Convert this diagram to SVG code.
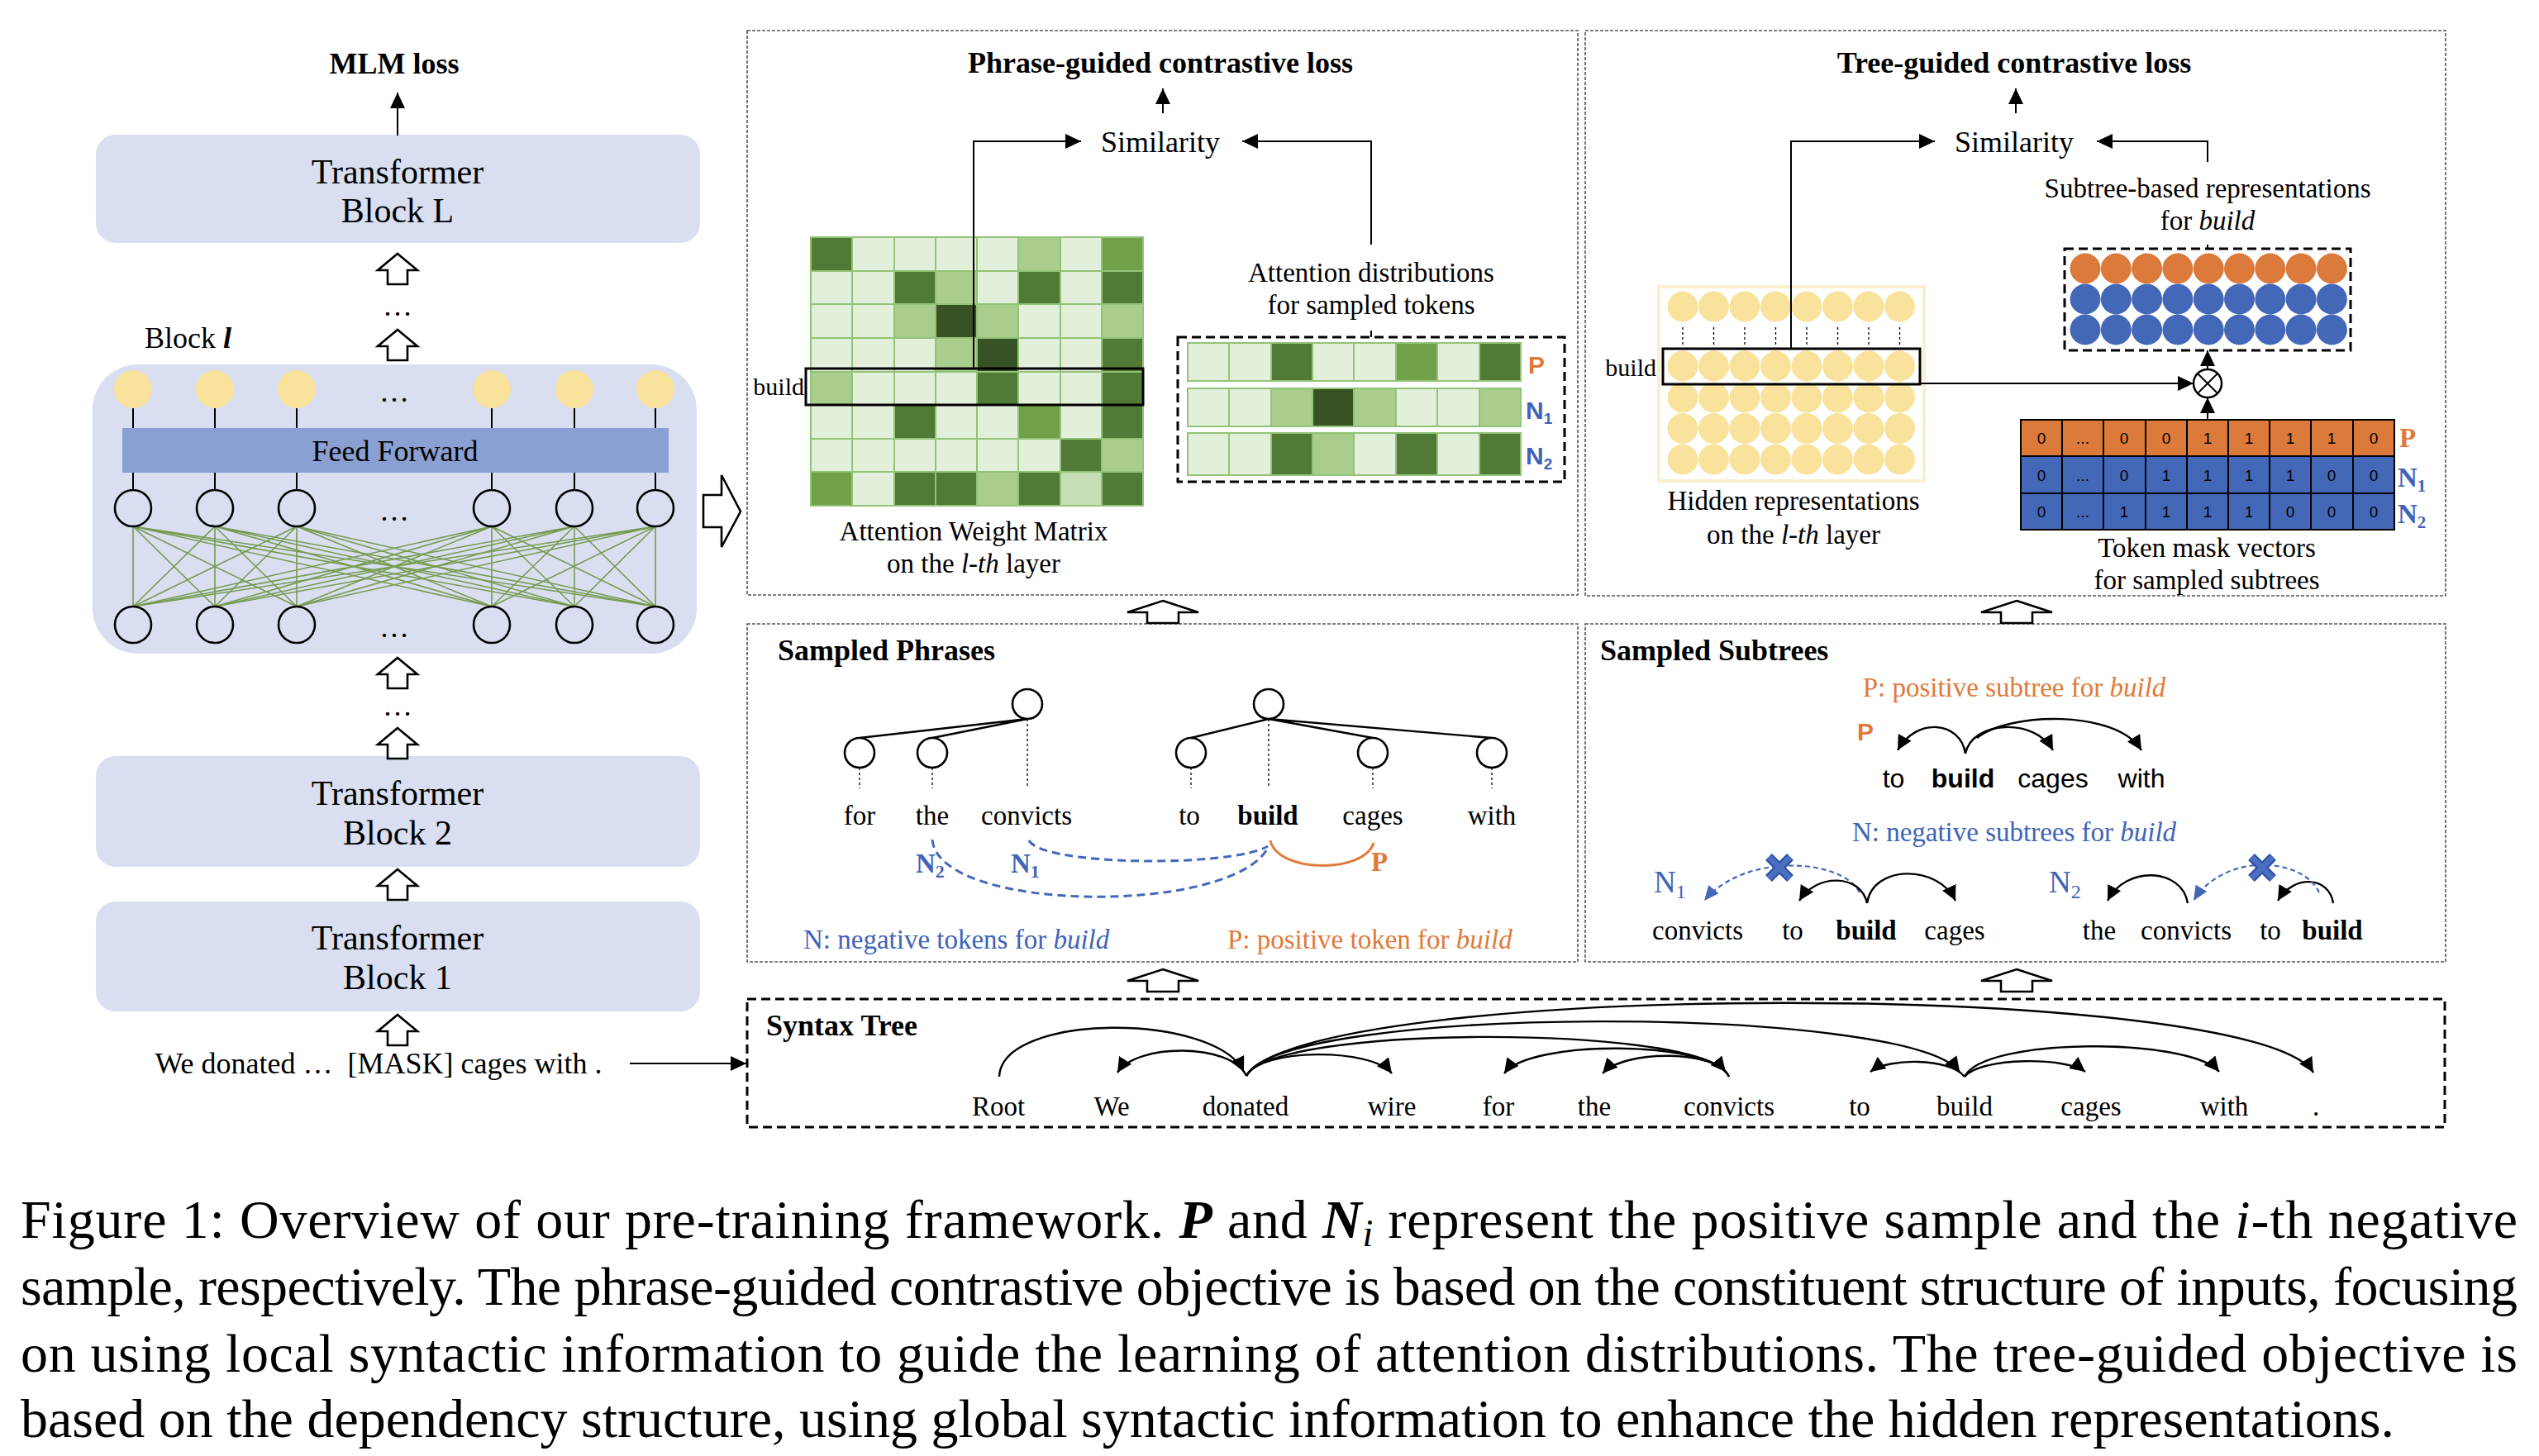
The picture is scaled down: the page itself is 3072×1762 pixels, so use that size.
<svg xmlns="http://www.w3.org/2000/svg" xmlns:xlink="http://www.w3.org/1999/xlink" width="3072" height="1762" viewBox="0 0 3072 1762">
<style>
.sf{font-family:"Liberation Serif","DejaVu Serif",serif;fill:#000}
.ss{font-family:"Liberation Sans","DejaVu Sans",sans-serif;fill:#000}
.b{font-weight:bold}
.i{font-style:italic}
.mid{text-anchor:middle}
.end{text-anchor:end}
.f42{font-size:42px}
.f36{font-size:36px}
.f33{font-size:33px}
.f30{font-size:30px}
.or{fill:#E07A38}
.bl{fill:#3F63B8}
.blk{fill:#D9DFF0}
.frame{fill:none;stroke:#555;stroke-width:1.6;stroke-dasharray:4 2}
.dbox{fill:none;stroke:#000;stroke-width:3;stroke-dasharray:11 6}
.ln{fill:none;stroke:#000;stroke-width:2}
.arc{fill:none;stroke:#000;stroke-width:2.4}
.nc{fill:none;stroke:#000;stroke-width:2.6}
.tc{fill:#fff;stroke:#000;stroke-width:2.6}
.dot{fill:none;stroke:#000;stroke-width:1.3;stroke-dasharray:3 3}
.gl{stroke:#769A4F;stroke-width:1.6}
.hol{fill:#fff;stroke:#000;stroke-width:2.6}
.yc{fill:#F9E29C}
.c0{fill:#E2EFDA}.c1{fill:#C5DEB3}.c2{fill:#A9CD8C}.c3{fill:#70A148}.c4{fill:#507A36}.c5{fill:#375224}
.cell rect{stroke:#93C377;stroke-width:2}
.oc{fill:#DC7A3B}
.bc{fill:#4468B8}
.mt rect{stroke:#000;stroke-width:2}
.mt text{font-family:"Liberation Sans","DejaVu Sans",sans-serif;font-size:19px;text-anchor:middle;fill:#000}
.bdash{fill:none;stroke:#4468B8;stroke-width:3;stroke-dasharray:10 6}
.bdash2{fill:none;stroke:#4468B8;stroke-width:2.2;stroke-dasharray:6 4}
</style>
<defs>
<marker id="ah" markerUnits="userSpaceOnUse" markerWidth="20" markerHeight="18" refX="19" refY="9" orient="auto"><path d="M0,0 L19,9 L0,18 Z" fill="#000"/></marker>
<marker id="as" markerUnits="userSpaceOnUse" markerWidth="20" markerHeight="20" refX="18" refY="9" orient="auto"><path d="M0,0 L18,9 L0,18 Z" fill="#000"/></marker>
<marker id="asb" markerUnits="userSpaceOnUse" markerWidth="20" markerHeight="18" refX="18" refY="8" orient="auto"><path d="M0,0 L18,8 L0,16 Z" fill="#4468B8"/></marker>
<path id="ua" d="M0,0 L24,20 L12,20 L12,37 L-12,37 L-12,20 L-24,20 Z"/>
<path id="wa" d="M0,0 L43,14 L19,14 L19,27 L-19,27 L-19,14 L-43,14 Z"/>
<g id="xm"><path d="M-13,-13 L13,13 M13,-13 L-13,13" stroke="#2E4E9E" stroke-width="11"/><path d="M-13,-13 L13,13 M13,-13 L-13,13" stroke="#4A6EC2" stroke-width="7"/></g>
</defs>
<rect x="0" y="0" width="3072" height="1762" fill="#fff"/>

<!-- LEFT COLUMN -->
<g id="mlm-loss">
<text class="sf b f36 mid" x="477" y="89">MLM loss</text>
</g>
<g id="block-L">
<rect class="blk" x="116" y="163" width="731" height="131" rx="24"/>
<text class="sf f42 mid" x="481" y="222">Transformer</text>
<text class="sf f42 mid" x="481" y="269">Block L</text>
</g>
<g id="block-l">
<text class="sf f36" x="175" y="421">Block <tspan class="b i">l</tspan></text>
<rect class="blk" x="112" y="441" width="731" height="350" rx="55"/>
<g class="yc">
<circle cx="161" cy="471" r="23"/><circle cx="260" cy="471" r="23"/><circle cx="359" cy="471" r="23"/>
<circle cx="595" cy="471" r="23"/><circle cx="695" cy="471" r="23"/><circle cx="793" cy="471" r="23"/>
</g>
<text class="sf f36 mid" x="477" y="486">…</text>
<path class="ln" d="M161,494V518M260,494V518M359,494V518M595,494V518M695,494V518M793,494V518"/>
<rect x="148" y="518" width="661" height="54" fill="#8A9FD2"/>
<text class="sf f36 mid" x="478" y="558">Feed Forward</text>
<path class="ln" d="M161,572V593M260,572V593M359,572V593M595,572V593M695,572V593M793,572V593"/>
<g class="gl">
<path d="M161,637L161,734M161,637L260,734M161,637L359,734M161,637L595,734M161,637L695,734M161,637L793,734"/>
<path d="M260,637L161,734M260,637L260,734M260,637L359,734M260,637L595,734M260,637L695,734M260,637L793,734"/>
<path d="M359,637L161,734M359,637L260,734M359,637L359,734M359,637L595,734M359,637L695,734M359,637L793,734"/>
<path d="M595,637L161,734M595,637L260,734M595,637L359,734M595,637L595,734M595,637L695,734M595,637L793,734"/>
<path d="M695,637L161,734M695,637L260,734M695,637L359,734M695,637L595,734M695,637L695,734M695,637L793,734"/>
<path d="M793,637L161,734M793,637L260,734M793,637L359,734M793,637L595,734M793,637L695,734M793,637L793,734"/>
</g>
<g class="nc">
<circle cx="161" cy="615" r="22"/><circle cx="260" cy="615" r="22"/><circle cx="359" cy="615" r="22"/>
<circle cx="595" cy="615" r="22"/><circle cx="695" cy="615" r="22"/><circle cx="793" cy="615" r="22"/>
<circle cx="161" cy="756" r="22"/><circle cx="260" cy="756" r="22"/><circle cx="359" cy="756" r="22"/>
<circle cx="595" cy="756" r="22"/><circle cx="695" cy="756" r="22"/><circle cx="793" cy="756" r="22"/>
</g>
<text class="sf f36 mid" x="477" y="630">…</text>
<text class="sf f36 mid" x="477" y="771">…</text>
</g>
<g id="block-2">
<rect class="blk" x="116" y="915" width="731" height="134" rx="24"/>
<text class="sf f42 mid" x="481" y="974">Transformer</text>
<text class="sf f42 mid" x="481" y="1022">Block 2</text>
</g>
<g id="block-1">
<rect class="blk" x="116" y="1091" width="731" height="133" rx="24"/>
<text class="sf f42 mid" x="481" y="1149">Transformer</text>
<text class="sf f42 mid" x="481" y="1197">Block 1</text>
</g>
<g id="input">
<text class="sf f36 mid" x="458" y="1299" xml:space="preserve">We donated …  [MASK] cages with .</text>
</g>
<text class="sf f36 mid" x="481" y="382">…</text>
<text class="sf f36 mid" x="481" y="866">…</text>

<!-- FRAMES -->
<g id="phrase-loss">
<rect class="frame" x="904" y="37" width="1005" height="683"/>
<text class="sf b f36 mid" x="1404" y="88">Phrase-guided contrastive loss</text>
<text class="sf f36 mid" x="1404" y="184">Similarity</text>
<g class="cell">
<rect class="c4" x="981" y="287" width="50" height="41"/><rect class="c0" x="1031" y="287" width="51" height="41"/><rect class="c0" x="1082" y="287" width="50" height="41"/><rect class="c0" x="1132" y="287" width="50" height="41"/><rect class="c0" x="1182" y="287" width="50" height="41"/><rect class="c2" x="1232" y="287" width="51" height="41"/><rect class="c0" x="1283" y="287" width="50" height="41"/><rect class="c3" x="1333" y="287" width="50" height="41"/>
<rect class="c0" x="981" y="328" width="50" height="40"/><rect class="c0" x="1031" y="328" width="51" height="40"/><rect class="c4" x="1082" y="328" width="50" height="40"/><rect class="c2" x="1132" y="328" width="50" height="40"/><rect class="c0" x="1182" y="328" width="50" height="40"/><rect class="c4" x="1232" y="328" width="51" height="40"/><rect class="c0" x="1283" y="328" width="50" height="40"/><rect class="c4" x="1333" y="328" width="50" height="40"/>
<rect class="c0" x="981" y="368" width="50" height="41"/><rect class="c0" x="1031" y="368" width="51" height="41"/><rect class="c2" x="1082" y="368" width="50" height="41"/><rect class="c5" x="1132" y="368" width="50" height="41"/><rect class="c2" x="1182" y="368" width="50" height="41"/><rect class="c0" x="1232" y="368" width="51" height="41"/><rect class="c0" x="1283" y="368" width="50" height="41"/><rect class="c2" x="1333" y="368" width="50" height="41"/>
<rect class="c0" x="981" y="409" width="50" height="41"/><rect class="c0" x="1031" y="409" width="51" height="41"/><rect class="c0" x="1082" y="409" width="50" height="41"/><rect class="c2" x="1132" y="409" width="50" height="41"/><rect class="c5" x="1182" y="409" width="50" height="41"/><rect class="c0" x="1232" y="409" width="51" height="41"/><rect class="c0" x="1283" y="409" width="50" height="41"/><rect class="c4" x="1333" y="409" width="50" height="41"/>
<rect class="c2" x="981" y="450" width="50" height="40"/><rect class="c0" x="1031" y="450" width="51" height="40"/><rect class="c0" x="1082" y="450" width="50" height="40"/><rect class="c0" x="1132" y="450" width="50" height="40"/><rect class="c4" x="1182" y="450" width="50" height="40"/><rect class="c0" x="1232" y="450" width="51" height="40"/><rect class="c0" x="1283" y="450" width="50" height="40"/><rect class="c4" x="1333" y="450" width="50" height="40"/>
<rect class="c0" x="981" y="490" width="50" height="41"/><rect class="c0" x="1031" y="490" width="51" height="41"/><rect class="c4" x="1082" y="490" width="50" height="41"/><rect class="c0" x="1132" y="490" width="50" height="41"/><rect class="c0" x="1182" y="490" width="50" height="41"/><rect class="c3" x="1232" y="490" width="51" height="41"/><rect class="c0" x="1283" y="490" width="50" height="41"/><rect class="c4" x="1333" y="490" width="50" height="41"/>
<rect class="c0" x="981" y="531" width="50" height="40"/><rect class="c0" x="1031" y="531" width="51" height="40"/><rect class="c0" x="1082" y="531" width="50" height="40"/><rect class="c0" x="1132" y="531" width="50" height="40"/><rect class="c0" x="1182" y="531" width="50" height="40"/><rect class="c0" x="1232" y="531" width="51" height="40"/><rect class="c4" x="1283" y="531" width="50" height="40"/><rect class="c2" x="1333" y="531" width="50" height="40"/>
<rect class="c3" x="981" y="571" width="50" height="41"/><rect class="c0" x="1031" y="571" width="51" height="41"/><rect class="c4" x="1082" y="571" width="50" height="41"/><rect class="c4" x="1132" y="571" width="50" height="41"/><rect class="c2" x="1182" y="571" width="50" height="41"/><rect class="c4" x="1232" y="571" width="51" height="41"/><rect class="c1" x="1283" y="571" width="50" height="41"/><rect class="c4" x="1333" y="571" width="50" height="41"/>
</g>
<rect x="975" y="446" width="408" height="44" fill="none" stroke="#000" stroke-width="3"/>
<text class="sf f30 end" x="973" y="478">build</text>
<text class="sf f33 mid" x="1178" y="654">Attention Weight Matrix</text>
<text class="sf f33 mid" x="1178" y="693">on the <tspan class="i">l-th</tspan> layer</text>
<text class="sf f33 mid" x="1659" y="341">Attention distributions</text>
<text class="sf f33 mid" x="1659" y="380">for sampled tokens</text>
<path class="ln" d="M1659,400V408"/>
<rect class="dbox" x="1425" y="408" width="468" height="175"/>
<g class="cell">
<rect class="c0" x="1437" y="415" width="50" height="46"/><rect class="c0" x="1487" y="415" width="51" height="46"/><rect class="c4" x="1538" y="415" width="50" height="46"/><rect class="c0" x="1588" y="415" width="50" height="46"/><rect class="c0" x="1638" y="415" width="51" height="46"/><rect class="c3" x="1689" y="415" width="50" height="46"/><rect class="c0" x="1739" y="415" width="51" height="46"/><rect class="c4" x="1790" y="415" width="50" height="46"/>
<rect class="c0" x="1437" y="470" width="50" height="46"/><rect class="c0" x="1487" y="470" width="51" height="46"/><rect class="c2" x="1538" y="470" width="50" height="46"/><rect class="c5" x="1588" y="470" width="50" height="46"/><rect class="c2" x="1638" y="470" width="51" height="46"/><rect class="c0" x="1689" y="470" width="50" height="46"/><rect class="c0" x="1739" y="470" width="51" height="46"/><rect class="c2" x="1790" y="470" width="50" height="46"/>
<rect class="c0" x="1437" y="524" width="50" height="51"/><rect class="c0" x="1487" y="524" width="51" height="51"/><rect class="c4" x="1538" y="524" width="50" height="51"/><rect class="c2" x="1588" y="524" width="50" height="51"/><rect class="c0" x="1638" y="524" width="51" height="51"/><rect class="c4" x="1689" y="524" width="50" height="51"/><rect class="c0" x="1739" y="524" width="51" height="51"/><rect class="c4" x="1790" y="524" width="50" height="51"/>
</g>
<text class="ss b f30 or" x="1849" y="452">P</text>
<text class="ss b f30 bl" x="1846" y="507">N<tspan font-size="19" dy="6">1</tspan></text>
<text class="ss b f30 bl" x="1846" y="562">N<tspan font-size="19" dy="6">2</tspan></text>
</g>

<g id="tree-loss">
<rect class="frame" x="1918" y="37" width="1041" height="684"/>
<text class="sf b f36 mid" x="2437" y="88">Tree-guided contrastive loss</text>
<text class="sf f36 mid" x="2437" y="184">Similarity</text>
<rect x="2007" y="347" width="321" height="235" fill="none" stroke="#FCEFCF" stroke-width="4"/>
<g class="yc">
<circle cx="2036" cy="371" r="18.5"/><circle cx="2073.5" cy="371" r="18.5"/><circle cx="2111" cy="371" r="18.5"/><circle cx="2148.5" cy="371" r="18.5"/><circle cx="2186" cy="371" r="18.5"/><circle cx="2223.5" cy="371" r="18.5"/><circle cx="2261" cy="371" r="18.5"/><circle cx="2298.5" cy="371" r="18.5"/>
<circle cx="2036" cy="443" r="18.5"/><circle cx="2073.5" cy="443" r="18.5"/><circle cx="2111" cy="443" r="18.5"/><circle cx="2148.5" cy="443" r="18.5"/><circle cx="2186" cy="443" r="18.5"/><circle cx="2223.5" cy="443" r="18.5"/><circle cx="2261" cy="443" r="18.5"/><circle cx="2298.5" cy="443" r="18.5"/>
<circle cx="2036" cy="481" r="18.5"/><circle cx="2073.5" cy="481" r="18.5"/><circle cx="2111" cy="481" r="18.5"/><circle cx="2148.5" cy="481" r="18.5"/><circle cx="2186" cy="481" r="18.5"/><circle cx="2223.5" cy="481" r="18.5"/><circle cx="2261" cy="481" r="18.5"/><circle cx="2298.5" cy="481" r="18.5"/>
<circle cx="2036" cy="518.5" r="18.5"/><circle cx="2073.5" cy="518.5" r="18.5"/><circle cx="2111" cy="518.5" r="18.5"/><circle cx="2148.5" cy="518.5" r="18.5"/><circle cx="2186" cy="518.5" r="18.5"/><circle cx="2223.5" cy="518.5" r="18.5"/><circle cx="2261" cy="518.5" r="18.5"/><circle cx="2298.5" cy="518.5" r="18.5"/>
<circle cx="2036" cy="556" r="18.5"/><circle cx="2073.5" cy="556" r="18.5"/><circle cx="2111" cy="556" r="18.5"/><circle cx="2148.5" cy="556" r="18.5"/><circle cx="2186" cy="556" r="18.5"/><circle cx="2223.5" cy="556" r="18.5"/><circle cx="2261" cy="556" r="18.5"/><circle cx="2298.5" cy="556" r="18.5"/>
</g>
<path class="dot" d="M2036,396V420M2073.5,396V420M2111,396V420M2148.5,396V420M2186,396V420M2223.5,396V420M2261,396V420M2298.5,396V420" stroke-width="2"/>
<rect x="2012" y="422" width="311" height="43" fill="none" stroke="#000" stroke-width="3"/>
<text class="sf f30 end" x="2004" y="455">build</text>
<text class="sf f33 mid" x="2170" y="617">Hidden representations</text>
<text class="sf f33 mid" x="2170" y="658">on the <tspan class="i">l-th</tspan> layer</text>
<text class="sf f33 mid" x="2671" y="239">Subtree-based representations</text>
<text class="sf f33 mid" x="2671" y="278">for <tspan class="i">build</tspan></text>
<rect class="dbox" x="2498" y="301" width="346" height="123"/>
<g class="oc">
<circle cx="2523" cy="325" r="18.5"/><circle cx="2560.3" cy="325" r="18.5"/><circle cx="2597.6" cy="325" r="18.5"/><circle cx="2634.9" cy="325" r="18.5"/><circle cx="2672.2" cy="325" r="18.5"/><circle cx="2709.5" cy="325" r="18.5"/><circle cx="2746.8" cy="325" r="18.5"/><circle cx="2784.1" cy="325" r="18.5"/><circle cx="2821.4" cy="325" r="18.5"/>
</g>
<g class="bc">
<circle cx="2523" cy="362" r="18.5"/><circle cx="2560.3" cy="362" r="18.5"/><circle cx="2597.6" cy="362" r="18.5"/><circle cx="2634.9" cy="362" r="18.5"/><circle cx="2672.2" cy="362" r="18.5"/><circle cx="2709.5" cy="362" r="18.5"/><circle cx="2746.8" cy="362" r="18.5"/><circle cx="2784.1" cy="362" r="18.5"/><circle cx="2821.4" cy="362" r="18.5"/>
<circle cx="2523" cy="399" r="18.5"/><circle cx="2560.3" cy="399" r="18.5"/><circle cx="2597.6" cy="399" r="18.5"/><circle cx="2634.9" cy="399" r="18.5"/><circle cx="2672.2" cy="399" r="18.5"/><circle cx="2709.5" cy="399" r="18.5"/><circle cx="2746.8" cy="399" r="18.5"/><circle cx="2784.1" cy="399" r="18.5"/><circle cx="2821.4" cy="399" r="18.5"/>
</g>
<g id="otimes">
<circle cx="2671" cy="464" r="17" fill="#fff" stroke="#000" stroke-width="2.5"/>
<path class="ln" d="M2659,452L2683,476M2683,452L2659,476"/>
</g>
<g class="mt">
<rect class="oc" x="2445" y="508" width="50" height="44"/><rect class="oc" x="2495" y="508" width="50" height="44"/><rect class="oc" x="2545" y="508" width="51" height="44"/><rect class="oc" x="2596" y="508" width="50" height="44"/><rect class="oc" x="2646" y="508" width="50" height="44"/><rect class="oc" x="2696" y="508" width="50" height="44"/><rect class="oc" x="2746" y="508" width="50" height="44"/><rect class="oc" x="2796" y="508" width="51" height="44"/><rect class="oc" x="2847" y="508" width="50" height="44"/>
<rect class="bc" x="2445" y="552" width="50" height="45"/><rect class="bc" x="2495" y="552" width="50" height="45"/><rect class="bc" x="2545" y="552" width="51" height="45"/><rect class="bc" x="2596" y="552" width="50" height="45"/><rect class="bc" x="2646" y="552" width="50" height="45"/><rect class="bc" x="2696" y="552" width="50" height="45"/><rect class="bc" x="2746" y="552" width="50" height="45"/><rect class="bc" x="2796" y="552" width="51" height="45"/><rect class="bc" x="2847" y="552" width="50" height="45"/>
<rect class="bc" x="2445" y="597" width="50" height="44"/><rect class="bc" x="2495" y="597" width="50" height="44"/><rect class="bc" x="2545" y="597" width="51" height="44"/><rect class="bc" x="2596" y="597" width="50" height="44"/><rect class="bc" x="2646" y="597" width="50" height="44"/><rect class="bc" x="2696" y="597" width="50" height="44"/><rect class="bc" x="2746" y="597" width="50" height="44"/><rect class="bc" x="2796" y="597" width="51" height="44"/><rect class="bc" x="2847" y="597" width="50" height="44"/>
<text x="2470" y="537">0</text><text x="2520" y="537">...</text><text x="2570" y="537">0</text><text x="2621" y="537">0</text><text x="2671" y="537">1</text><text x="2721" y="537">1</text><text x="2771" y="537">1</text><text x="2821" y="537">1</text><text x="2872" y="537">0</text>
<text x="2470" y="582">0</text><text x="2520" y="582">...</text><text x="2570" y="582">0</text><text x="2621" y="582">1</text><text x="2671" y="582">1</text><text x="2721" y="582">1</text><text x="2771" y="582">1</text><text x="2821" y="582">0</text><text x="2872" y="582">0</text>
<text x="2470" y="626">0</text><text x="2520" y="626">...</text><text x="2570" y="626">1</text><text x="2621" y="626">1</text><text x="2671" y="626">1</text><text x="2721" y="626">1</text><text x="2771" y="626">0</text><text x="2821" y="626">0</text><text x="2872" y="626">0</text>
</g>
<text class="sf b f33 or" x="2903" y="541">P</text>
<text class="sf b f33 bl" x="2901" y="589">N<tspan font-size="21" dy="6">1</tspan></text>
<text class="sf b f33 bl" x="2901" y="633">N<tspan font-size="21" dy="6">2</tspan></text>
<text class="sf f33 mid" x="2670" y="674">Token mask vectors</text>
<text class="sf f33 mid" x="2670" y="713">for sampled subtrees</text>
</g>

<g id="sampled-phrases">
<rect class="frame" x="904" y="755" width="1005" height="409"/>
<text class="sf b f36" x="941" y="799">Sampled Phrases</text>
<path class="arc" d="M1243,870L1040,893M1243,870L1128,893M1535,870L1441,893M1535,870L1661,893M1535,870L1805,893"/>
<path class="dot" d="M1243,870V954M1040,929V954M1128,929V954M1535,870V954M1441,929V954M1661,929V954M1805,929V954"/>
<g class="tc">
<circle cx="1243" cy="852" r="18"/><circle cx="1040" cy="911" r="18"/><circle cx="1128" cy="911" r="18"/>
<circle cx="1535" cy="852" r="18"/><circle cx="1441" cy="911" r="18"/><circle cx="1661" cy="911" r="18"/><circle cx="1805" cy="911" r="18"/>
</g>
<text class="sf f33 mid" x="1040" y="998">for</text>
<text class="sf f33 mid" x="1128" y="998">the</text>
<text class="sf f33 mid" x="1242" y="998">convicts</text>
<text class="sf f33 mid" x="1439" y="998">to</text>
<text class="sf b f33 mid" x="1534" y="998">build</text>
<text class="sf f33 mid" x="1661" y="998">cages</text>
<text class="sf f33 mid" x="1805" y="998">with</text>
<path class="bdash" d="M1128,1016 C1135,1105 1490,1108 1534,1026"/>
<path class="bdash" d="M1245,1017 C1260,1048 1490,1050 1534,1024"/>
<path d="M1537,1017 C1545,1056 1650,1058 1662,1020" fill="none" stroke="#E07A38" stroke-width="3"/>
<text class="sf b f33 bl" x="1108" y="1056">N<tspan font-size="22" dy="6">2</tspan></text>
<text class="sf b f33 bl" x="1223" y="1056">N<tspan font-size="22" dy="6">1</tspan></text>
<text class="sf b f33 or" x="1659" y="1054">P</text>
<text class="sf f33 bl" x="972" y="1148">N: negative tokens for <tspan class="i">build</tspan></text>
<text class="sf f33 or" x="1485" y="1148">P: positive token for <tspan class="i">build</tspan></text>
</g>

<g id="sampled-subtrees">
<rect class="frame" x="1918" y="755" width="1041" height="409"/>
<text class="sf b f36" x="1936" y="799">Sampled Subtrees</text>
<text class="sf f33 or mid" x="2437" y="843">P: positive subtree for <tspan class="i">build</tspan></text>
<text class="ss b f30 or" x="2247" y="896">P</text>
<path class="arc" d="M2378,912 C2372,872 2318,868 2296,908" marker-end="url(#as)"/>
<path class="arc" d="M2378,912 C2386,872 2462,868 2484,908" marker-end="url(#as)"/>
<path class="arc" d="M2392,893 C2430,862 2560,858 2591,908" marker-end="url(#as)"/>
<text class="ss mid" style="font-size:32px" x="2291" y="953">to</text>
<text class="ss b mid" style="font-size:32px" x="2375" y="953">build</text>
<text class="ss mid" style="font-size:32px" x="2484" y="953">cages</text>
<text class="ss mid" style="font-size:32px" x="2591" y="953">with</text>
<text class="sf f33 bl mid" x="2437" y="1018">N: negative subtrees for <tspan class="i">build</tspan></text>
<text class="sf bl" style="font-size:37px" x="2001" y="1080">N<tspan font-size="24" dy="7">1</tspan></text>
<path class="bdash2" d="M2250,1080 C2228,1038 2110,1032 2062,1090" marker-end="url(#asb)"/>
<path class="arc" d="M2259,1093 C2252,1058 2198,1056 2177,1090" marker-end="url(#as)"/>
<path class="arc" d="M2259,1093 C2266,1046 2345,1046 2366,1090" marker-end="url(#as)"/>
<use href="#xm" x="2153" y="1050"/>
<text class="sf f33 mid" x="2054" y="1137">convicts</text>
<text class="sf f33 mid" x="2169" y="1137">to</text>
<text class="sf b f33 mid" x="2258" y="1137">build</text>
<text class="sf f33 mid" x="2365" y="1137">cages</text>
<text class="sf bl" style="font-size:37px" x="2479" y="1080">N<tspan font-size="24" dy="7">2</tspan></text>
<path class="arc" d="M2647,1093 C2640,1050 2572,1047 2550,1090" marker-end="url(#as)"/>
<path class="arc" d="M2823,1093 C2818,1060 2775,1058 2756,1090" marker-end="url(#as)"/>
<path class="bdash2" d="M2806,1080 C2785,1036 2690,1032 2654,1090" marker-end="url(#asb)"/>
<use href="#xm" x="2737" y="1050"/>
<text class="sf f33 mid" x="2540" y="1137">the</text>
<text class="sf f33 mid" x="2645" y="1137">convicts</text>
<text class="sf f33 mid" x="2747" y="1137">to</text>
<text class="sf b f33 mid" x="2822" y="1137">build</text>
</g>

<g id="syntax-tree">
<rect class="dbox" x="904" y="1209" width="2054" height="155"/>
<text class="sf b f36" x="927" y="1253">Syntax Tree</text>
<g class="sf f33 mid">
<text x="1208" y="1350">Root</text><text x="1345" y="1350">We</text><text x="1507" y="1350">donated</text><text x="1684" y="1350">wire</text><text x="1813" y="1350">for</text><text x="1929" y="1350">the</text><text x="2092" y="1350">convicts</text><text x="2250" y="1350">to</text><text x="2377" y="1350">build</text><text x="2530" y="1350">cages</text><text x="2691" y="1350">with</text><text x="2802" y="1350">.</text>
</g>
<path class="arc" d="M1209,1303 C1212,1225 1470,1225 1505,1297" marker-end="url(#as)"/>
<path class="arc" d="M1508,1302 C1490,1262 1375,1262 1352,1298" marker-end="url(#as)"/>
<path class="arc" d="M1508,1302 C1525,1268 1660,1268 1684,1299" marker-end="url(#as)"/>
<path class="arc" d="M1508,1302 C1540,1240 2040,1240 2088,1297" marker-end="url(#as)"/>
<path class="arc" d="M1508,1302 C1550,1215 2310,1215 2371,1297" marker-end="url(#as)"/>
<path class="arc" d="M1508,1302 C1580,1185 2730,1185 2799,1298" marker-end="url(#as)"/>
<path class="arc" d="M2092,1303 C2070,1258 1850,1258 1820,1299" marker-end="url(#as)"/>
<path class="arc" d="M2092,1303 C2078,1270 1965,1270 1939,1299" marker-end="url(#as)"/>
<path class="arc" d="M2377,1303 C2358,1280 2285,1280 2263,1297" marker-end="url(#as)"/>
<path class="arc" d="M2377,1303 C2397,1279 2500,1279 2523,1297" marker-end="url(#as)"/>
<path class="arc" d="M2377,1303 C2400,1255 2650,1255 2685,1297" marker-end="url(#as)"/>
</g>

<!-- CONNECTORS -->
<g id="connectors">
<path class="ln" d="M481,164V112" marker-end="url(#ah)"/>
<path class="ln" d="M1407,137V107" marker-end="url(#ah)"/>
<path class="ln" d="M2439,137V107" marker-end="url(#ah)"/>
<path class="ln" d="M1178,446V171H1308" marker-end="url(#ah)"/>
<path class="ln" d="M1659,296V171H1503" marker-end="url(#ah)"/>
<path class="ln" d="M2167,422V171H2341" marker-end="url(#ah)"/>
<path class="ln" d="M2671,196V171H2537" marker-end="url(#ah)"/>
<path class="ln" d="M2323,464H2654" marker-end="url(#ah)"/>
<path class="ln" d="M2671,447V424" marker-end="url(#ah)"/>
<path class="ln" d="M2671,508V481" marker-end="url(#ah)"/>
<path class="ln" d="M2671,296V301"/>
<path class="ln" d="M762,1287H903" marker-end="url(#ah)"/>
<g class="hol">
<use href="#ua" x="481" y="307"/>
<use href="#ua" x="481" y="399"/>
<use href="#ua" x="481" y="796"/>
<use href="#ua" x="481" y="881"/>
<use href="#ua" x="481" y="1052"/>
<use href="#ua" x="481" y="1228"/>
<use href="#wa" x="1407" y="727"/>
<use href="#wa" x="2440" y="727"/>
<use href="#wa" x="1407" y="1173"/>
<use href="#wa" x="2440" y="1173"/>
<path d="M851,599 L873,599 L873,575 L896,619 L873,662 L873,638 L851,638 Z"/>
</g>
</g>

<!-- CAPTION -->
<g id="caption" class="sf" style="font-size:66px">
<text x="25" y="1498" textLength="3021" lengthAdjust="spacing">Figure 1: Overview of our pre-training framework. <tspan class="b i">P</tspan> and <tspan class="b i">N</tspan><tspan class="i" font-size="46" dy="10">i</tspan><tspan dy="-10"> represent the positive sample and the </tspan><tspan class="i">i</tspan>-th negative</text>
<text x="25" y="1579" textLength="3021" lengthAdjust="spacing">sample, respectively. The phrase-guided contrastive objective is based on the constituent structure of inputs, focusing</text>
<text x="25" y="1660" textLength="3021" lengthAdjust="spacing">on using local syntactic information to guide the learning of attention distributions. The tree-guided objective is</text>
<text x="25" y="1739">based on the dependency structure, using global syntactic information to enhance the hidden representations.</text>
</g>
</svg>
